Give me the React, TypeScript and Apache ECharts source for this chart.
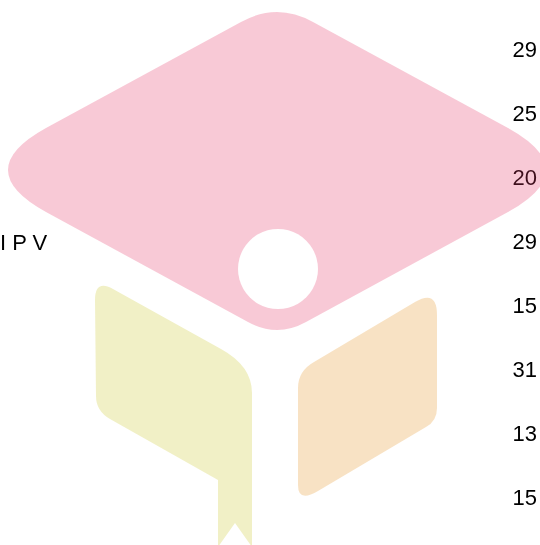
import React, { useEffect, useRef } from "react";
import * as echarts from "echarts";

// Tick labels shown down the right-hand side (top to bottom)
const rowLabels: string[] = ["29", "25", "20", "29", "15", "31", "13", "15"];
// Text fragment on the left
const sideText = "I P V";

// Logo outlines (graduation cap + open book)
const capPath =
  "M 241 22 Q 277 2 313 22 L 508 128 Q 584 170 508 212 L 306 322 Q 277 338 248 322 L 46 212 Q -30 170 46 128 Z";
const leftPagePath =
  "M 95 300 Q 95 279 113 289 L 221 349 Q 252 366 252 393 L 252 547 L 235 523 L 218 547 L 218 480 L 110 419 Q 96 411 96 396 Z";
const rightPagePath =
  "M 298 388 Q 298 371 314 362 L 415 302 Q 437 289 437 315 L 437 408 Q 437 421 426 427 L 318 491 Q 298 503 298 485 Z";

let registered = false;
function registerShapes() {
  if (registered) return;
  echarts.graphic.registerShape("capShape", echarts.graphic.extendPath(capPath, {}));
  echarts.graphic.registerShape("leftPage", echarts.graphic.extendPath(leftPagePath, {}));
  echarts.graphic.registerShape("rightPage", echarts.graphic.extendPath(rightPagePath, {}));
  registered = true;
}

export default function App() {
  const ref = useRef<HTMLDivElement>(null);

  useEffect(() => {
    if (!ref.current) return;
    registerShapes();
    const chart = echarts.init(ref.current, undefined, { renderer: "svg" });
    const font = "Liberation Sans, Arial, sans-serif";
    chart.setOption({
      animation: false,
      grid: { left: 0, right: 31, top: 17, bottom: 15, containLabel: false },
      xAxis: { type: "value", show: false, min: 0, max: 1 },
      yAxis: {
        type: "category",
        position: "right",
        inverse: true,
        data: rowLabels,
        axisLine: { show: false },
        axisTick: { show: false },
        splitLine: { show: false },
        axisLabel: {
          margin: 8,
          align: "left",
          fontSize: 22,
          fontFamily: font,
          color: "#000",
        },
      },
      series: [{ type: "scatter", data: [], silent: true }],
      graphic: [
        {
          type: "text",
          x: 0,
          y: 242,
          z: 1,
          style: {
            text: sideText,
            fontSize: 22,
            fontFamily: font,
            fill: "#000",
            verticalAlign: "middle",
            align: "left",
          },
        },
        {
          type: "capShape",
          x: 0,
          y: 0,
          z: 100,
          style: { fill: "rgba(229,55,103,0.27)" },
        },
        {
          type: "circle",
          z: 101,
          shape: { cx: 278, cy: 269, r: 40 },
          style: { fill: "#ffffff" },
        },
        {
          type: "leftPage",
          x: 0,
          y: 0,
          z: 100,
          style: { fill: "rgba(204,200,44,0.27)" },
        },
        {
          type: "rightPage",
          x: 0,
          y: 0,
          z: 100,
          style: { fill: "rgba(230,148,37,0.27)" },
        },
      ],
    });
    return () => chart.dispose();
  }, []);

  return (
    <div
      ref={ref}
      style={{ position: "fixed", left: 0, top: 0, width: 540, height: 545 }}
    />
  );
}
